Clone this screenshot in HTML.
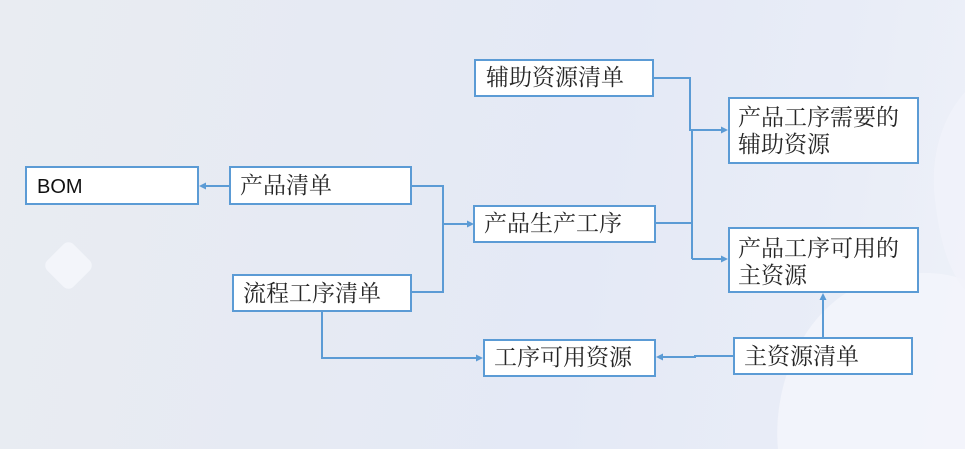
<!DOCTYPE html>
<html>
<head>
<meta charset="utf-8">
<style>
  html { margin: 0; padding: 0; width: 965px; height: 449px; overflow: hidden; }
  body { margin: 0; padding: 0; width: 965px; height: 449px; overflow: hidden; position: relative;
    background: linear-gradient(100deg, #e9ecf2 0%, #e6eaf3 35%, #e4e9f6 60%, #e9edf7 85%, #eef1f8 100%); }
  svg { position: absolute; left: 0; top: 0; overflow: hidden; display: block; }
  .cj { font-family: "Liberation Serif", "Noto Serif CJK SC", serif; font-size: 23px; fill: #262626; }
  .lat { font-family: "Liberation Sans", sans-serif; font-size: 20px; fill: #111; }
</style>
</head>
<body>
<svg width="965" height="449" viewBox="0 0 965 449" xmlns="http://www.w3.org/2000/svg">
  <!-- background decorations (kept within frame) -->
  <path d="M 778 449 C 772 390, 800 300, 880 278 C 915 270, 945 272, 965 280 L 965 449 Z" fill="#f3f5fb" opacity="0.85"/>
  <path d="M 965 92 C 940 120, 930 160, 935 200 C 940 245, 950 272, 965 290 Z" fill="#f1f3fa" opacity="0.8"/>
  <rect x="50" y="247" width="37" height="37" rx="7" transform="rotate(45 68.5 265.5)" fill="#f4f6fb" opacity="0.9"/>

  <g stroke="#5b9bd5" stroke-width="2" fill="none">
    <!-- 产品清单 -> BOM -->
    <line x1="229" y1="186" x2="204" y2="186"/>
    <!-- 产品清单 & 流程工序清单 -> 产品生产工序 -->
    <polyline points="412,186 443,186 443,292 412,292"/>
    <line x1="443" y1="224" x2="468" y2="224"/>
    <!-- 辅助资源清单 -> 需要 -->
    <polyline points="654,78 690,78 690,130 722,130"/>
    <!-- 产品生产工序 -> both -->
    <line x1="656" y1="223" x2="692" y2="223"/>
    <line x1="692" y1="130" x2="692" y2="259"/>
    <line x1="692" y1="259" x2="722" y2="259"/>
    <!-- 流程工序清单 -> 工序可用资源 -->
    <polyline points="322,312 322,358 477,358"/>
    <!-- 主资源清单 -> 工序可用资源 -->
    <polyline points="733,356 695,356 695,357 661,357"/>
    <!-- 主资源清单 -> 可用的主资源 -->
    <line x1="823" y1="337" x2="823" y2="298"/>
  </g>
  <g fill="#5b9bd5">
    <polygon points="199,186 206,182.5 206,189.5"/>
    <polygon points="474,224 467,220.5 467,227.5"/>
    <polygon points="728,130 721,126.5 721,133.5"/>
    <polygon points="728,259 721,255.5 721,262.5"/>
    <polygon points="483,358 476,354.5 476,361.5"/>
    <polygon points="656,357 663,353.5 663,360.5"/>
    <polygon points="823,293 819.5,300 826.5,300"/>
  </g>

  <g stroke="#5b9bd5" stroke-width="2" fill="#ffffff">
    <rect x="26" y="167" width="172" height="37"/>
    <rect x="230" y="167" width="181" height="37"/>
    <rect x="233" y="275" width="178" height="36"/>
    <rect x="474" y="206" width="181" height="36"/>
    <rect x="475" y="60" width="178" height="36"/>
    <rect x="729" y="98" width="189" height="65"/>
    <rect x="729" y="228" width="189" height="64"/>
    <rect x="484" y="340" width="171" height="36"/>
    <rect x="734" y="338" width="178" height="36"/>
  </g>

  <text class="lat" x="37" y="193">BOM</text>
  <text class="cj" x="240" y="193">产品清单</text>
  <text class="cj" x="243" y="301">流程工序清单</text>
  <text class="cj" x="484" y="231">产品生产工序</text>
  <text class="cj" x="486" y="85">辅助资源清单</text>
  <text class="cj" x="738" y="125">产品工序需要的</text>
  <text class="cj" x="738" y="152">辅助资源</text>
  <text class="cj" x="738" y="256">产品工序可用的</text>
  <text class="cj" x="738" y="283">主资源</text>
  <text class="cj" x="494" y="365">工序可用资源</text>
  <text class="cj" x="744" y="364">主资源清单</text>
</svg>
</body>
</html>
